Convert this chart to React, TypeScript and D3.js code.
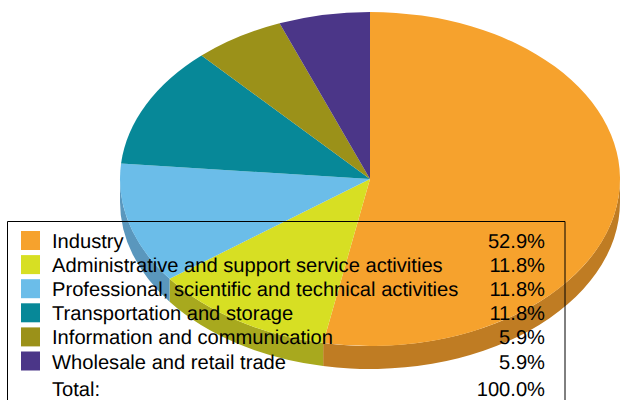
import React from "react";
import * as d3 from "d3";

const categories = [
  "Industry",
  "Administrative and support service activities",
  "Professional, scientific and technical activities",
  "Transportation and storage",
  "Information and communication",
  "Wholesale and retail trade",
];
const shares = [53.0, 11.8, 11.67, 11.76, 5.88, 5.89];
const shareLabels = ["52.9%", "11.8%", "11.8%", "11.8%", "5.9%", "5.9%"];
const topColors = ["#f6a22d", "#d7df23", "#6bbde9", "#078898", "#9b9119", "#4b3688"];
const sideColors = ["#bf7c23", "#a8a91e", "#5a97bd", "#066c78", "#7a7214", "#3b2a6b"];
const totalLabel = "Total:";
const totalValue = "100.0%";

const W = 620, H = 400;
const cx = 370, cy = 179, rx = 250, ry = 167, depth = 23;

const pieGen = d3.pie<number>().sort(null).value((d) => d);
const arcs = pieGen(shares);
const arcGen = d3.arc<d3.PieArcDatum<number>>().innerRadius(0).outerRadius(rx);

// Front wall of a slice: the part of its arc on the lower half of the ellipse.
function wallPath(a0: number, a1: number): string | null {
  const s = Math.max(a0, Math.PI / 2);
  const e = Math.min(a1, (3 * Math.PI) / 2);
  if (e <= s) return null;
  const px = (a: number) => cx + rx * Math.sin(a);
  const py = (a: number) => cy - ry * Math.cos(a);
  const large = e - s > Math.PI ? 1 : 0;
  return (
    `M${px(s)},${py(s)}` +
    `A${rx},${ry} 0 ${large} 1 ${px(e)},${py(e)}` +
    `L${px(e)},${py(e) + depth}` +
    `A${rx},${ry} 0 ${large} 0 ${px(s)},${py(s) + depth}Z`
  );
}

const rowY = d3.scalePoint<number>().domain(d3.range(categories.length)).range([248, 368.5]);

export default function App() {
  return (
    <svg
      width={W}
      height={H}
      viewBox={`0 0 ${W} ${H}`}
      style={{ position: "absolute", left: 0, top: 0, display: "block" }}
      fontFamily="'Liberation Sans', Arial, sans-serif"
      fontSize={20.15}
      textRendering="geometricPrecision"
      fill="#000"
    >
      <rect width={W} height={H} fill="#fff" />
      {arcs.map((a, i) => {
        const d = wallPath(a.startAngle, a.endAngle);
        return d ? <path key={i} d={d} fill={sideColors[i]} /> : null;
      })}
      <g transform={`translate(${cx},${cy}) scale(1,${ry / rx})`}>
        {arcs.map((a, i) => (
          <path key={i} d={arcGen(a) ?? ""} fill={topColors[i]} />
        ))}
      </g>
      <path d={`M7.5,${H}V221.5H565V${H}`} fill="none" stroke="#000" strokeWidth={1} />
      {categories.map((c, i) => {
        const y = rowY(i) as number;
        return (
          <g key={c}>
            <rect x={21} y={y - 17} width={19} height={19} fill={topColors[i]} />
            <text x={52} y={y}>{c}</text>
            <text x={545} y={y} textAnchor="end">{shareLabels[i]}</text>
          </g>
        );
      })}
      <text x={52} y={396}>{totalLabel}</text>
      <text x={545} y={396} textAnchor="end">{totalValue}</text>
    </svg>
  );
}
